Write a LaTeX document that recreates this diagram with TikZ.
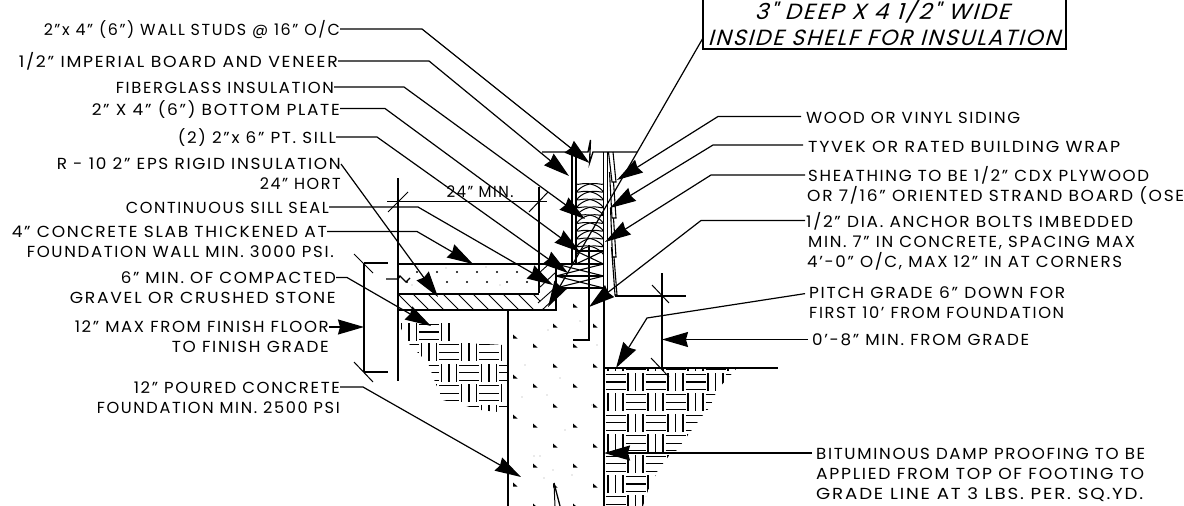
\documentclass[tikz,border=0pt]{standalone}
\usepackage{fontspec}
\usepackage{graphicx}
\setmainfont{Poppins}[LetterSpace=10,Ligatures=NoCommon]
\newfontfamily\boxfont{Poppins}[LetterSpace=8,FakeSlant=0.28]
\newcommand\fitw[2]{\resizebox{#1pt}{\height}{#2}}
\usetikzlibrary{arrows.meta}
\tikzset{
  x=1pt,y=-1pt,
  thin line/.style={line width=1pt,black},
  part/.style={line width=1.3pt,black},
  lead/.style={line width=1.2pt,-{Stealth[length=26pt,width=15pt,inset=2pt]}},
  lbl/.style={inner sep=0pt,font=\fontsize{16}{18}\selectfont,text height=11.5pt,text depth=0pt},
  ll/.style={lbl,anchor=east},
  rl/.style={lbl,anchor=west},
  boxlbl/.style={inner sep=0pt,font=\fontsize{22}{24}\boxfont},
  hatchline/.style={line width=1.15pt},
}
\begin{document}
\begin{tikzpicture}
\useasboundingbox (0,0) rectangle (1184,506);
% ---- ground hatch right
\begin{scope}
\clip (604,368) -- (737,368) -- (717,390) -- (710,407) -- (703,415) -- (688,435) -- (677,450) -- (668,457) -- (658,470) -- (647,493) -- (643,506) -- (604,506) -- cycle;
\foreach \i in {0,...,6}{\foreach \j in {-1,...,6}{
  \pgfmathtruncatemacro{\e}{mod(\i+\j+20,2)}
  \pgfmathsetmacro{\cx}{615.5+20*\i}\pgfmathsetmacro{\cy}{382+20.4*\j}
  \ifnum\e=0
    \foreach \d in {-7.5,0,7.5}{\draw[hatchline] (\cx-10,\cy+\d) -- (\cx+10,\cy+\d);}
  \else
    \foreach \d in {-7.5,0,7.5}{\draw[hatchline] (\cx+\d,\cy-9) -- (\cx+\d,\cy+9);}
  \fi
}}
\end{scope}
% ---- ground hatch left
\begin{scope}
\clip (398,322) -- (450,322) -- (450,342) -- (503,345) -- (508,363) -- (508,413) -- (480,410) -- (463,405) -- (443,400) -- (435,382) -- (428,363) -- (408,343) -- cycle;
\foreach \i in {-2,...,4}{\foreach \j in {0,...,4}{
  \pgfmathtruncatemacro{\e}{mod(\i+\j+20,2)}
  \pgfmathsetmacro{\cx}{429+20*\i}\pgfmathsetmacro{\cy}{332+20.4*\j}
  \ifnum\e=0
    \foreach \d in {-7.5,0,7.5}{\draw[hatchline] (\cx-10,\cy+\d) -- (\cx+10,\cy+\d);}
  \else
    \foreach \d in {-7.5,0,7.5}{\draw[hatchline] (\cx+\d,\cy-9) -- (\cx+\d,\cy+9);}
  \fi
}}
\end{scope}
% ---- concrete aggregate
\foreach \x/\ys in {515/{337,377,417,485},535/{346,386,426,466,506},555/{326,366,406,446,486},575/{306,346,386,426,466,506},595/{326,366,406,446,486}}{
  \foreach \y in \ys {\fill (\x-2,\y-2.5) -- (\x+2.5,\y+1.5) -- (\x-2,\y+1.5) -- cycle;}
}
\foreach \x/\y in {417/272,437/272,457/272,477/272,497/272,517/272,407/282,447/282,467/282,487/282,507/282,527/282}{\fill (\x,\y) circle (1.2);}
\foreach \x/\y in {525/365,548/330,580/321,597/345,522/397,547/395,560/378,565/430,592/405,540/456,534/456,572/475,553/470,544/478,418/267,446/268,486/267,412/285,500/285,540/286}{\fill[gray!70] (\x,\y) circle (.7);}
% ---- foundation wall
\draw[part] (508,311) -- (508,506);
\draw[part] (604,295) -- (604,506);
\draw[part] (554,483) -- (560,506);
\draw[line width=1pt] (554,483) -- (555,506);
% ---- anchor bolt
\draw[line width=2pt] (589,245) -- (589,340) -- (573,340);
% ---- slab
\draw[part] (398,264) -- (604,264);
\draw[part] (398,294) -- (539,294);
\draw[part] (398,310) -- (556,310) -- (556,264);
\draw[part] (398,178) -- (398,381);
\draw[part] (539,187) -- (539,293);
\draw[part] (386,279) -- (398,279) -- (400,276) -- (406,282) -- (410,278);
% gravel and insulation hatches
\begin{scope}
\clip (398,294) rectangle (540,310);
\foreach \x in {-0,1,...,9}{\draw[line width=.9pt] (398+\x*15,294) -- +(16,16);}
\end{scope}
\draw[line width=.9pt] (539,273) -- (549,264);
\draw[line width=.9pt] (539,288) -- (556,272);
\draw[line width=.9pt] (538,303) -- (556,287);
\draw[line width=.9pt] (542,310) -- (556,297);
% ---- wall
\draw[part] (542,152) -- (588,152) -- (590.5,140) -- (589.5,163) -- (593,152) -- (637,152);
\draw[part] (572,152) -- (572,263);
\draw[part] (576,152) -- (576,263);
\draw[part] (603.5,152) -- (603.5,295);
\draw[part] (607.5,152) -- (607.5,295);
% siding boards
\draw[line width=1.1pt] (608.5,152) -- (612,182) -- (616,182) -- (613,152);
\draw[line width=1.1pt] (609.5,172) -- (612,218) -- (616,218) -- (613.5,182);
\draw[line width=1.1pt] (610.5,208) -- (612.5,257) -- (616,257) -- (613.5,218);
\draw[line width=1.1pt] (611.5,247) -- (615,295) -- (617,295) -- (614,257);
% insulation
\draw[line width=1pt] plot[smooth,domain=0:1620,samples=73] ({590-13*sin(\x+90)},{182+\x/180*7.8+2*cos(2*\x)});
\draw[line width=1pt] plot[smooth,domain=0:1620,samples=73] ({590+13*sin(\x+90)},{182+\x/180*7.8+2*cos(2*\x)});
% plates
\draw[part] (576,251) -- (603.5,251);
\draw[part] (556,276) -- (603.5,276);
\draw[part] (556,288) -- (603.5,288);
\draw[line width=1.1pt] (576,251) -- (603.5,264) (576,264) -- (603.5,251);
\draw[line width=1.1pt] (556,264) -- (603.5,276) (556,276) -- (603.5,264);
\draw[line width=1.1pt] (556,276) -- (603.5,288) (556,288) -- (603.5,276);
% ---- dimensions
\draw[thin line] (387,201) -- (547,201);
\draw[thin line] (388,212) -- (408,192);
\draw[thin line] (529,212) -- (548,192);
\node[lbl] (dimA) at (480,192) {\fitw{67}{24" MIN.}};
\draw[part] (364,263) -- (388,263);
\draw[part] (364,372) -- (388,372);
\draw[part] (364,263) -- (364,372);
\draw[thin line] (354,254) -- (373,273);
\draw[thin line] (354,362) -- (373,382);
\draw[part] (615,296) -- (686,296);
\draw[part] (604,368) -- (778,368);
\draw[part] (662,273) -- (662,368);
\draw[thin line] (652,285) -- (669,303);
\draw[thin line] (651,358) -- (669,377);
% ---- title box
\draw[line width=1.2pt] (703,-2) -- (703,49) -- (1066,49) -- (1066,-2);
\node[boxlbl] (boxa) at (882,11.5) {\fitw{255}{3" DEEP X 4 1/2" WIDE}};
\node[boxlbl] (boxb) at (884,38) {\fitw{352}{INSIDE SHELF FOR INSULATION}};
\coordinate (boxleader) at (703,38);
\coordinate (boxtip) at (548,307);
\draw[lead] (boxleader) -- (boxtip);
% ---- left labels
\node[ll] (a1) at (340,29.5) {\fitw{296}{2"x 4" (6") WALL STUDS @ 16" O/C}};
\node[ll] (a2) at (338,61.5) {\fitw{319}{1/2" IMPERIAL BOARD AND VENEER}};
\node[ll] (a3) at (334,87.5) {\fitw{218}{FIBERGLASS INSULATION}};
\node[ll] (a4) at (340,109.5) {\fitw{248}{2" X 4" (6") BOTTOM PLATE}};
\node[ll] (a5) at (336,138) {\fitw{158}{(2) 2"x 6" PT. SILL}};
\node[ll] (a6) at (341,164) {\fitw{284}{R - 10 2" EPS RIGID INSULATION}};
\node[ll] (a6b) at (341,184) {\fitw{81}{24" HORT}};
\node[ll] (a7) at (329,208) {\fitw{203}{CONTINUOUS SILL SEAL}};
\node[ll] (a8) at (327,232) {\fitw{315}{4" CONCRETE SLAB THICKENED AT}};
\node[ll] (a8b) at (334,252) {\fitw{307}{FOUNDATION WALL MIN. 3000 PSI.}};
\node[ll] (a9) at (336,278) {\fitw{215}{6" MIN. OF COMPACTED}};
\node[ll] (a9b) at (336,298) {\fitw{266}{GRAVEL OR CRUSHED STONE}};
\node[ll] (a10) at (329,327) {\fitw{254}{12" MAX FROM FINISH FLOOR}};
\node[ll] (a10b) at (329,347) {\fitw{157}{TO FINISH GRADE}};
\node[ll] (a11) at (340,388) {\fitw{206}{12" POURED CONCRETE}};
\node[ll] (a11b) at (340,408) {\fitw{243}{FOUNDATION MIN. 2500 PSI}};
% ---- right labels
\node[rl] (b1) at (806,117.5) {\fitw{214}{WOOD OR VINYL SIDING}};
\node[rl] (b2) at (808,146.5) {\fitw{312}{TYVEK OR RATED BUILDING WRAP}};
\node[rl] (b3) at (808,176) {\fitw{341}{SHEATHING TO BE 1/2" CDX PLYWOOD}};
\node[rl] (b3b) at (807,195.5) {\fitw{377}{OR 7/16" ORIENTED STRAND BOARD (OSE}};
\node[rl] (b4) at (806,221.5) {\fitw{327}{1/2" DIA. ANCHOR BOLTS IMBEDDED}};
\node[rl] (b4b) at (808,241.5) {\fitw{327}{MIN. 7" IN CONCRETE, SPACING MAX}};
\node[rl] (b4c) at (807,261.5) {\fitw{315}{4'-0" O/C, MAX 12" IN AT CORNERS}};
\node[rl] (b5) at (809,293) {\fitw{256}{PITCH GRADE 6" DOWN FOR}};
\node[rl] (b5b) at (809,313) {\fitw{255}{FIRST 10' FROM FOUNDATION}};
\node[rl] (b6) at (812,340) {\fitw{217}{0'-8" MIN. FROM GRADE}};
\node[rl] (b7) at (816,454) {\fitw{329}{BITUMINOUS DAMP PROOFING TO BE}};
\node[rl] (b7b) at (816,474) {\fitw{328}{APPLIED FROM TOP OF FOOTING TO}};
\node[rl] (b7c) at (816,494) {\fitw{327}{GRADE LINE AT 3 LBS. PER. SQ.YD.}};
% ---- leader coordinates
\coordinate (a1c) at (422,29);   \coordinate (a1t) at (589.5,163);
\coordinate (a2c) at (429,61);   \coordinate (a2t) at (569,176);
\coordinate (a3c) at (404,87);   \coordinate (a3t) at (585,219);
\coordinate (a4c) at (385,108.5);  \coordinate (a4t) at (580,252);
\coordinate (a5c) at (377,137);  \coordinate (a5t) at (568,273);
\coordinate (a6t) at (438,297);
\coordinate (a7c) at (418,207);  \coordinate (a7t) at (553,285);
\coordinate (a8c) at (417,231.5);  \coordinate (a8t) at (473,264);
\coordinate (a9c) at (347,277.5);  \coordinate (a9t) at (431,326);
\coordinate (a10t) at (364,327);
\coordinate (a11c) at (363,387); \coordinate (a11t) at (521,477);
\coordinate (b1c) at (718,116.5);  \coordinate (b1t) at (617,180);
\coordinate (b2c) at (713,145);  \coordinate (b2t) at (610,208);
\coordinate (b3c) at (711,175);  \coordinate (b3t) at (605,242);
\coordinate (b4c') at (701,220.5); \coordinate (b4t) at (589,307);
\coordinate (b5c) at (647,318);  \coordinate (b5t) at (616,368);
\coordinate (b6t) at (662,339.5);
\coordinate (b7t) at (604,453);
% ---- leaders
\draw[lead] (a1.east |- a1c) -- (a1c) -- (a1t);
\draw[lead] (a2.east |- a2c) -- (a2c) -- (a2t);
\draw[lead] (a3.east |- a3c) -- (a3c) -- (a3t);
\draw[lead] (a4.east |- a4c) -- (a4c) -- (a4t);
\draw[lead] (a5.east |- a5c) -- (a5c) -- (a5t);
\draw[lead] (a6.east) -- (a6t);
\draw[lead] (a7.east |- a7c) -- (a7c) -- (a7t);
\draw[lead] (a8.east |- a8c) -- (a8c) -- (a8t);
\draw[lead] (a9.east |- a9c) -- (a9c) -- (a9t);
\draw[lead] (a10.east) -- (a10t);
\draw[lead] (a11.east |- a11c) -- (a11c) -- (a11t);
\draw[lead,shorten <=5pt] (b1.west |- b1c) -- (b1c) -- (b1t);
\draw[lead,shorten <=5pt] (b2.west |- b2c) -- (b2c) -- (b2t);
\draw[lead,shorten <=3pt] (b3.west |- b3c) -- (b3c) -- (b3t);
\draw[lead,shorten <=1pt] (b4.west |- b4c') -- (b4c') -- (b4t);
\draw[lead,shorten <=4pt] (b5.west) -- (b5c) -- (b5t);
\draw[lead,shorten <=4pt] (b6.west |- b6t) -- (b6t);
\draw[lead,shorten <=4pt] (b7.west |- b7t) -- (b7t);
\end{tikzpicture}
\end{document}
